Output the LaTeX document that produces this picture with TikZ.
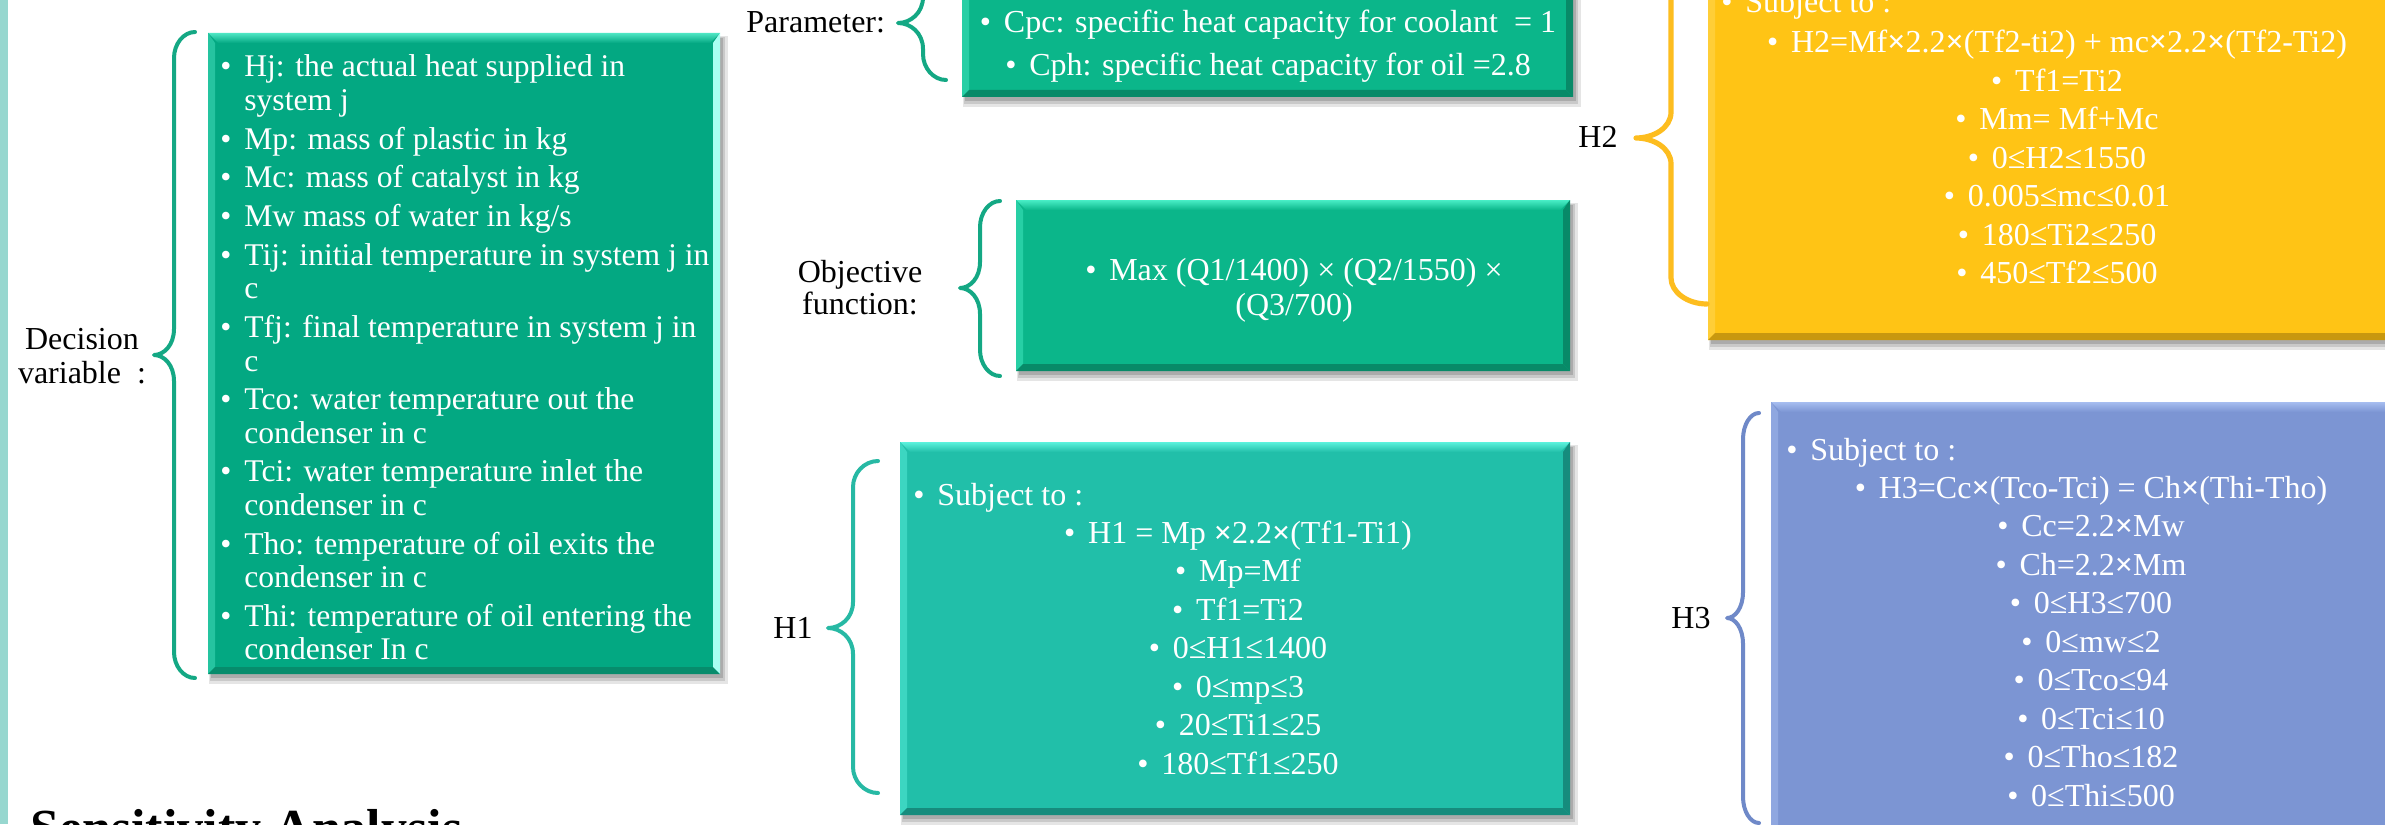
\documentclass[tikz,border=0pt]{standalone}
\usepackage{fontspec}
\setmainfont{Liberation Serif}
\usetikzlibrary{calc}
\definecolor{leftbar}{HTML}{97D7CF}
\definecolor{decmain}{HTML}{03A882}
\definecolor{declight}{HTML}{4FE6C4}
\definecolor{decdark}{HTML}{078C6C}
\definecolor{decright}{HTML}{A8FFF2}
\definecolor{grnmain}{HTML}{0BB68A}
\definecolor{grnlight}{HTML}{48EEC6}
\definecolor{grndark}{HTML}{088A68}
\definecolor{hamain}{HTML}{21BFA9}
\definecolor{halight}{HTML}{5CF2DD}
\definecolor{hadark}{HTML}{168C7D}
\definecolor{hbmain}{HTML}{FFC415}
\definecolor{hblight}{HTML}{FFD960}
\definecolor{hbdark}{HTML}{C8980F}
\definecolor{hcmain}{HTML}{7C95D3}
\definecolor{hclight}{HTML}{A6BDF0}
\definecolor{hcdark}{HTML}{5E77B3}
\definecolor{brgreen}{HTML}{14A884}
\definecolor{brha}{HTML}{27B9A4}
\definecolor{brhb}{HTML}{FDBD1F}
\definecolor{brhc}{HTML}{6F89C8}
\newcommand{\bul}{\makebox[12pt][l]{•}}
\newcommand{\ind}{\hspace*{12pt}}
\newcommand{\bx}{{\bfseries ×}}
% name, x1, y1, x2, y2, main, light, dark, right colour
\newcommand{\bevbox}[9]{%
  \fill[black, opacity=0.10] ({#2+1},{#3+3}) rectangle ({#4+8},{#5+10});
  \fill[black, opacity=0.12] ({#2+2},{#3+4}) rectangle ({#4+5},{#5+7});
  \fill[black, opacity=0.15] ({#2+3},{#3+5}) rectangle ({#4+3},{#5+4});
  \node[boxnode, fill=#6, minimum width={(#4-#2)*0.5pt}, minimum height={(#5-#3)*0.5pt}] (#1) at ({(#2+#4)/2},{(#3+#5)/2}) {};
  \shade[top color=#7, bottom color=#6] (#2,#3) -- (#4,#3) -- ({#4-10},{#3+10}) -- ({#2+10},{#3+10}) -- cycle;
  \fill[#7!45!#6] (#2,#3) -- ({#2+7},{#3+10}) -- ({#2+7},{#5-7}) -- (#2,#5) -- cycle;
  \fill[#8] (#2,#5) -- ({#2+7},{#5-7}) -- ({#4-7},{#5-7}) -- (#4,#5) -- cycle;
  \fill[#9] (#4,#3) -- ({#4-7},{#3+10}) -- ({#4-7},{#5-7}) -- (#4,#5) -- cycle;
}
% colour, width, xe, xv, xt, ytop, ytip, ybot
\newcommand{\cbrace}[8]{%
  \draw[#1, line width=#2, line cap=round, line join=round]
   (#3,#6) .. controls ({#4+0.45*(#3-#4)},#6) and (#4,{#6+12}) .. (#4,{#6+26})
   -- (#4,{#7-26}) .. controls (#4,{#7-10}) and ({#5+0.5*(#4-#5)},#7) .. (#5,#7)
   .. controls ({#5+0.5*(#4-#5)},#7) and (#4,{#7+10}) .. (#4,{#7+26})
   -- (#4,{#8-26}) .. controls (#4,{#8-12}) and ({#4+0.45*(#3-#4)},#8) .. (#3,#8);
}
\begin{document}
\begin{tikzpicture}[x=0.5pt, y=-0.5pt,
  boxnode/.style={draw=none, inner sep=0pt, outer sep=0pt, rectangle},
  lbl/.style={inner sep=0pt, text=black, font=\fontsize{16pt}{19pt}\selectfont},
  wtxt/.style={inner sep=0pt, text=white, font=\fontsize{16pt}{19.25pt}\selectfont}]
\useasboundingbox (0,0) rectangle (2385,824);
\fill[white] (0,0) rectangle (2385,824);
\fill[leftbar] (0,0) rectangle (8,824);

% boxes
\bevbox{dec}{208}{33}{720}{674}{decmain}{declight}{decdark}{decright}
\bevbox{par}{962}{-40}{1573}{97}{grnmain}{grnlight}{grndark}{grndark}
\bevbox{obj}{1016}{200}{1570}{371}{grnmain}{grnlight}{grndark}{grndark}
\bevbox{hone}{900}{442}{1570}{815}{hamain}{halight}{hadark}{hadark}
\bevbox{htwo}{1708}{-40}{2406}{340}{hbmain}{hblight}{hbdark}{hbdark}
\bevbox{hthree}{1771}{402}{2410}{860}{hcmain}{hclight}{hcdark}{hcdark}

% braces
\cbrace{brgreen}{2pt}{195}{174}{154}{32}{355}{678}
\cbrace{brgreen}{2pt}{946}{923}{898}{-34}{23}{80}
\cbrace{brgreen}{2pt}{1000}{980}{960}{201}{288}{376}
\cbrace{brha}{2pt}{878}{853}{828}{461}{628}{793}
\cbrace{brhb}{2.6pt}{1707}{1671}{1636}{-28}{138}{304}
\cbrace{brhc}{2pt}{1759}{1743}{1727}{413}{618}{823}

% labels
\node[lbl, anchor=base, font=\fontsize{16pt}{17pt}\selectfont] (declabel) at (82,349)
  {\begin{tabular}[t]{@{}c@{}}Decision\\variable\ \ :\end{tabular}};
\node[lbl, anchor=base west] (parlabel) at (746,33) {Parameter:};
\node[lbl, anchor=base, font=\fontsize{16pt}{16.25pt}\selectfont] (objlabel) at (860,282)
  {\begin{tabular}[t]{@{}c@{}}Objective\\function:\end{tabular}};
\node[lbl, anchor=base west] (honelabel) at (773,638) {H1};
\node[lbl, anchor=base west] (htwolabel) at (1578,148) {H2};
\node[lbl, anchor=base west] (hthreelabel) at (1671,628) {H3};

% decision text
\node[wtxt, anchor=base west, font=\fontsize{15.8pt}{16.75pt}\selectfont] (dectext) at (220,77)
{\begin{tabular}[t]{@{}l@{}}
\bul Hj: the actual heat supplied in\\
\ind system j\\[2.6pt]
\bul Mp: mass of plastic in kg\\[2.6pt]
\bul Mc: mass of catalyst in kg\\[2.6pt]
\bul Mw mass of water in kg/s\\[2.6pt]
\bul Tij: initial temperature in system j in\\
\ind c\\[2.6pt]
\bul Tfj: final temperature in system j in\\
\ind c\\[2.6pt]
\bul Tco: water temperature out the\\
\ind condenser in c\\[2.6pt]
\bul Tci: water temperature inlet the\\
\ind condenser in c\\[2.6pt]
\bul Tho: temperature of oil exits the\\
\ind condenser in c\\[2.6pt]
\bul Thi: temperature of oil entering the\\
\ind condenser In c
\end{tabular}};

% parameter text
\node[wtxt, anchor=base, font=\fontsize{16pt}{21pt}\selectfont] (partext) at (1268,33)
{\begin{tabular}[t]{@{}c@{}}
\bul Cpc: specific heat capacity for coolant \ = 1\\
\bul Cph: specific heat capacity for oil =2.8
\end{tabular}};

% objective text
\node[wtxt, anchor=base, font=\fontsize{16pt}{17.5pt}\selectfont] (objtext) at (1294,280)
{\begin{tabular}[t]{@{}c@{}}
\bul Max (Q1/1400) × (Q2/1550) ×\\
(Q3/700)
\end{tabular}};

% H1 text
\node[wtxt, anchor=base west] (honesub) at (913,505) {\bul Subject to :};
\node[wtxt, anchor=base] (honetext) at (1238,543)
{\begin{tabular}[t]{@{}c@{}}
\bul H1 = Mp \bx2.2\bx(Tf1-Ti1)\\
\bul Mp=Mf\\
\bul Tf1=Ti2\\
\bul 0≤H1≤1400\\
\bul 0≤mp≤3\\
\bul 20≤Ti1≤25\\
\bul 180≤Tf1≤250
\end{tabular}};

% H2 text
\node[wtxt, anchor=base west] (htwosub) at (1721,13) {\bul Subject to :};
\node[wtxt, anchor=base] (htwotext) at (2057,53)
{\begin{tabular}[t]{@{}c@{}}
\bul H2=Mf\bx2.2\bx(Tf2-ti2) + mc\bx2.2\bx(Tf2-Ti2)\\
\bul Tf1=Ti2\\
\bul Mm= Mf+Mc\\
\bul 0≤H2≤1550\\
\bul 0.005≤mc≤0.01\\
\bul 180≤Ti2≤250\\
\bul 450≤Tf2≤500
\end{tabular}};

% H3 text
\node[wtxt, anchor=base west] (hthreesub) at (1786,460) {\bul Subject to :};
\node[wtxt, anchor=base] (hthreetext) at (2091,498)
{\begin{tabular}[t]{@{}c@{}}
\bul H3=Cc\bx(Tco-Tci) = Ch\bx(Thi-Tho)\\
\bul Cc=2.2\bx Mw\\
\bul Ch=2.2\bx Mm\\
\bul 0≤H3≤700\\
\bul 0≤mw≤2\\
\bul 0≤Tco≤94\\
\bul 0≤Tci≤10\\
\bul 0≤Tho≤182\\
\bul 0≤Thi≤500
\end{tabular}};

% heading
\node[inner sep=0pt, anchor=base west, font=\bfseries\fontsize{26pt}{30pt}\selectfont] (sens) at (30,845) {Sensitivity Analysis};
\end{tikzpicture}
\end{document}
